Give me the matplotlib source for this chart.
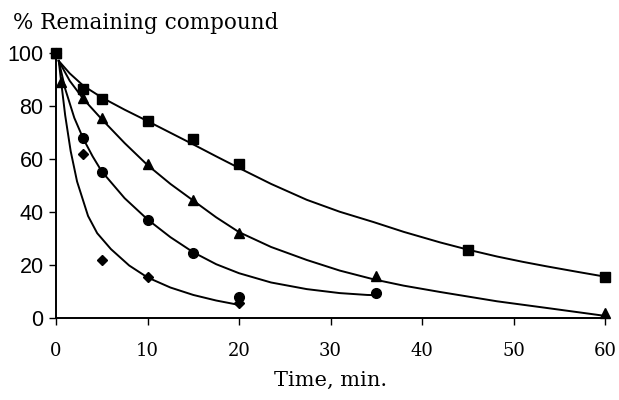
import matplotlib
matplotlib.use('Agg')
import matplotlib.pyplot as plt

# measured points
sq_t = [0, 3, 5, 10, 15, 20, 45, 60]
sq_v = [100, 86.5, 82.5, 74.5, 67.5, 58, 25.5, 15.5]
tri_t = [0, 0.5, 3, 5, 10, 15, 20, 35, 60]
tri_v = [100, 89, 83, 75.5, 58, 44.5, 32, 16, 2]
circ_t = [0, 3, 5, 10, 15, 20, 35]
circ_v = [100, 68, 55, 37, 24.5, 8, 9.3]
dia_t = [0, 3, 5, 10, 20]
dia_v = [100, 62, 22, 15.5, 5.5]

# fitted curves
sq_fit_t = [0.3, 1.5, 3, 5, 7.5, 10, 12.5, 15, 17.5, 20, 23.5, 27.4, 31, 34.7, 38, 42, 45, 48.2, 51, 53.6, 57, 60]
sq_fit_v = [97, 92.3, 87.6, 83.2, 78.6, 74.3, 69.9, 65.5, 61, 56.6, 50.6, 44.6, 40.1, 36.2, 32.5, 28.5, 25.8, 23.2, 21.2, 19.5, 17.4, 15.6]
tri_fit_t = [0.3, 1.5, 3, 5, 7.5, 10, 12.5, 15, 17.5, 20, 23.5, 27.4, 31, 34.7, 38, 42, 48.2, 53.6, 60]
tri_fit_v = [97, 89.5, 82.6, 75, 66, 57.7, 50.6, 44.3, 38, 32.4, 26.8, 21.9, 17.9, 14.6, 12.2, 9.8, 6.3, 3.8, 0.8]
circ_fit_t = [0.3, 1, 2, 3, 4, 5, 7.5, 10, 12.5, 15, 17.5, 20, 23.5, 27.4, 31, 34, 35]
circ_fit_v = [97, 86.5, 75.5, 67.5, 61, 55.3, 45.2, 37.2, 30.5, 24.8, 20.3, 16.9, 13.4, 10.9, 9.4, 8.7, 8.6]
dia_fit_t = [0.3, 0.6, 1, 1.6, 2.3, 3.5, 4.5, 6, 8, 10, 12.5, 15, 17.5, 19.6]
dia_fit_v = [97, 88, 76.5, 63, 51.5, 38.5, 32, 26, 19.8, 15.3, 11.5, 8.7, 6.6, 5.2]

fig = plt.figure(figsize=(6.19, 4.0), dpi=100)
ax = fig.add_axes([0.0905, 0.205, 0.887, 0.6625])

for t, v in [(sq_fit_t, sq_fit_v), (tri_fit_t, tri_fit_v),
             (circ_fit_t, circ_fit_v), (dia_fit_t, dia_fit_v)]:
    ax.plot(t, v, color='black', linewidth=1.4, solid_joinstyle='round', clip_on=False)

ax.plot(dia_t, dia_v, 'D', color='black', markersize=5.5, clip_on=False)
ax.plot(circ_t, circ_v, 'o', color='black', markersize=7, clip_on=False)
ax.plot(tri_t, tri_v, '^', color='black', markersize=7.5, clip_on=False)
ax.plot(sq_t, sq_v, 's', color='black', markersize=6.5, clip_on=False)

ax.set_xlim(0, 60)
ax.set_ylim(0, 100)
ax.set_xticks(range(0, 61, 10))
ax.set_yticks(range(0, 101, 20))
for s in ['top', 'right']:
    ax.spines[s].set_visible(False)
for s in ['left', 'bottom']:
    ax.spines[s].set_linewidth(1.4)
ax.tick_params(direction='out', length=5, width=1)
ax.tick_params(axis='x', pad=12)
ax.tick_params(axis='y', pad=4)
for lbl in ax.get_xticklabels():
    lbl.set_fontfamily('DejaVu Serif')
    lbl.set_fontsize(13)
for lbl in ax.get_yticklabels():
    lbl.set_fontfamily('Liberation Sans')
    lbl.set_fontsize(15.5)

ax.set_xlabel('Time, min.', family='DejaVu Serif', fontsize=15, labelpad=8)
fig.text(0.021, 0.942, '% Remaining compound', family='DejaVu Serif', fontsize=15.5,
         ha='left', va='center')

plt.savefig('out.png', dpi=100)
